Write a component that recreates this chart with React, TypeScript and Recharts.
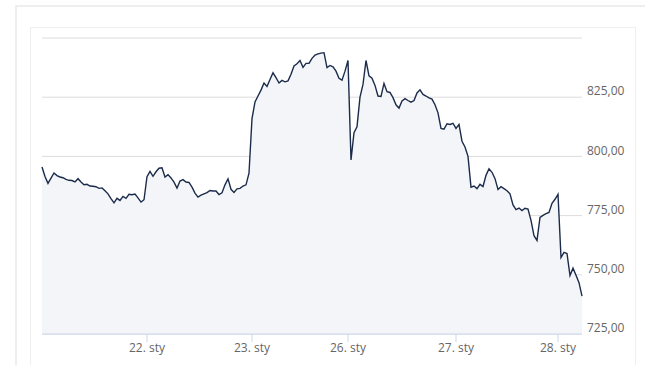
import React from 'react';
import { AreaChart, Area, XAxis, YAxis, CartesianGrid } from 'recharts';

// tick labels for the trading days, placed at the index of the day's first quote
const dayLabels = ['22. sty', '23. sty', '26. sty', '27. sty', '28. sty'];
const dayTickIndex = [35, 70, 102, 138, 172];

const yTicks = [725, 750, 775, 800, 825, 850];

// intraday quotes
const prices = [
  795.5, 791.5, 788.6, 790.8, 793, 791.9, 791.3, 791, 790.3, 789.9,
  789.8, 789.2, 790.6, 789.2, 788, 788.2, 787.5, 787.4, 787.2, 786.5,
  786.7, 785.5, 784.2, 782.2, 780.4, 782.3, 781.4, 783.1, 782.3, 784,
  783.8, 784.1, 782.5, 780.7, 781.7, 791.4, 793.7, 791.6, 793.5, 795,
  795.2, 791.3, 792.3, 790.9, 789.1, 786.6, 789.6, 790.2, 789.2, 789,
  787, 784.5, 782.8, 783.6, 784.2, 784.7, 785.6, 785.4, 785.4, 783.9,
  784.6, 788, 790.5, 786.1, 784.8, 786.3, 786.5, 787.5, 788, 792.9,
  816, 823, 825.5, 828, 831, 829.5, 832.5, 835.3, 833.3, 831,
  832.1, 831.5, 831.9, 834.7, 838.2, 839.1, 840.5, 837.6, 839.3, 839.3,
  841.4, 842.8, 843.3, 843.6, 843.8, 837.5, 838.4, 837.8, 836, 833,
  832.2, 836, 840.5, 798.5, 810, 812.5, 825, 830.4, 840.5, 834,
  833, 830, 825.5, 825.3, 830.8, 827.3, 827, 824.8, 821.8, 820.4,
  823.4, 824.4, 823.6, 822.9, 823.6, 826.8, 828.1, 826.2, 825.5, 824.7,
  824.2, 821.8, 818.4, 811.8, 811.5, 813.8, 813.5, 814, 811.8, 813.5,
  806.4, 804, 800, 787, 787.5, 786.4, 788.2, 787.3, 792, 794.8,
  793.3, 790.6, 786, 787.2, 786.4, 785.5, 784.2, 779.5, 777.5, 778.2,
  777.1, 778.1, 777.8, 773, 766.5, 764.5, 774.2, 775.1, 775.8, 776.3,
  780.2, 781.9, 784, 757.3, 759.5, 759, 749.7, 752.8, 749.8, 746.7,
  741,
];

const data = prices.map((price, i) => ({ i, price }));

const font = '"Open Sans", sans-serif';

const fmt = (v: number) => v.toFixed(2).replace('.', ',');

const PriceTick = ({ x, y, payload }: any) => {
  if (payload.value === 850) return null;
  return (
    <text x={x} y={y - 6} dy="0.35em" textAnchor="start" fill="#666" fontSize={12} fontFamily={font}>
      {fmt(payload.value)}
    </text>
  );
};

export default function App() {
  return (
    <div style={{ position: 'absolute', left: 0, top: 0, width: 645, height: 365, overflow: 'hidden', background: '#fff' }}>
      {/* outer panel */}
      <div
        style={{
          position: 'absolute',
          left: 15,
          top: 5,
          width: 700,
          height: 400,
          borderTop: '2px solid #eeeeee',
          borderLeft: '2px solid #eeeeee',
        }}
      />
      {/* inner chart box */}
      <div
        style={{
          position: 'absolute',
          left: 30,
          top: 27,
          width: 604,
          height: 400,
          border: '1px solid #efefef',
        }}
      />
      <div style={{ position: 'absolute', left: 0, top: 0 }}>
        <AreaChart width={645} height={365} data={data} margin={{ top: 38, right: 0, left: 42, bottom: 0 }}>
          <CartesianGrid vertical={false} stroke="#dcdcdc" />
          <XAxis
            dataKey="i"
            type="number"
            domain={[0, prices.length - 1]}
            ticks={dayTickIndex}
            interval={0}
            tickFormatter={(v: number) => dayLabels[dayTickIndex.indexOf(v)]}
            height={31}
            tickSize={8}
            tickMargin={1}
            axisLine={{ stroke: '#ccd6eb' }}
            tickLine={{ stroke: '#ccd6eb' }}
            tick={{ fill: '#666', fontSize: 12, fontFamily: font }}
          />
          <YAxis
            orientation="right"
            domain={[725, 850]}
            ticks={yTicks}
            width={63}
            tickSize={0}
            tickMargin={5}
            axisLine={false}
            tickLine={false}
            tick={<PriceTick />}
          />
          <Area
            type="linear"
            dataKey="price"
            stroke="#1b2b4a"
            strokeWidth={1.4}
            fill="#f3f5f8"
            fillOpacity={1}
            dot={false}
            activeDot={false}
            isAnimationActive={false}
          />
        </AreaChart>
      </div>
    </div>
  );
}
